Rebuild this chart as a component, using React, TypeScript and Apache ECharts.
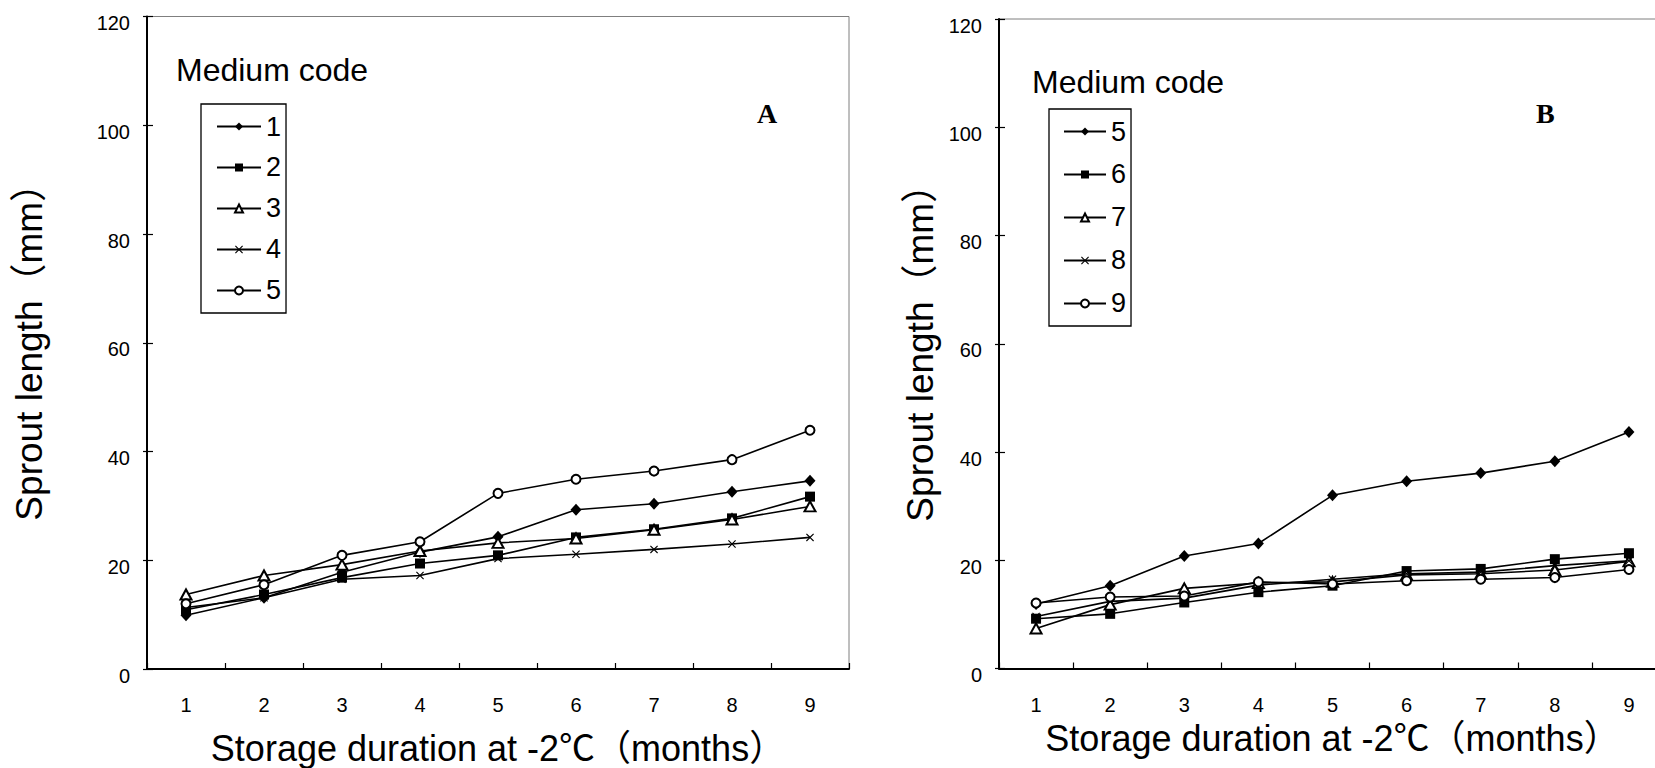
import React, { useEffect, useRef } from 'react';
import * as echarts from 'echarts';

// ---- data ----
const months = ['1', '2', '3', '4', '5', '6', '7', '8', '9'];

const codesA = ['1', '2', '3', '4', '5'];
const codesB = ['5', '6', '7', '8', '9'];

const a1 = [9.9, 13.1, 17.8, 21.5, 24.3, 29.3, 30.4, 32.6, 34.6];
const a2 = [10.9, 13.7, 16.8, 19.4, 20.9, 24.2, 25.7, 27.7, 31.7];
const a3 = [13.7, 17.2, 19.2, 21.7, 23.2, 24.0, 25.6, 27.5, 29.9];
const a4 = [11.3, 13.1, 16.5, 17.2, 20.3, 21.1, 22.0, 23.0, 24.2];
const a5 = [12.0, 15.5, 20.9, 23.4, 32.3, 34.9, 36.4, 38.5, 43.9];

const b5 = [11.9, 15.3, 20.8, 23.1, 32.0, 34.6, 36.1, 38.3, 43.7];
const b6 = [9.2, 10.1, 12.2, 14.1, 15.3, 18.0, 18.4, 20.2, 21.3];
const b7 = [7.4, 11.8, 14.8, 15.8, 16.0, 17.3, 17.5, 18.2, 19.8];
const b8 = [9.6, 12.4, 13.0, 15.4, 16.5, 17.5, 17.8, 19.0, 19.9];
const b9 = [12.1, 13.2, 13.4, 16.0, 15.6, 16.2, 16.5, 16.8, 18.3];

const yMin = 0;
const yMax = 120;
const yStep = 20;

const xTitle = 'Storage duration at -2℃（months）';
const yTitle = 'Sprout length（mm）';
const legendTitle = 'Medium code';
const panelA = 'A';
const panelB = 'B';

// ---- styling ----
const FONT = "'Liberation Sans', Arial, 'Noto Sans CJK SC', sans-serif";
const CROSS = 'path://M0,1L1,0L5,4L9,0L10,1L6,5L10,9L9,10L5,6L1,10L0,9L4,5Z';
const markers = [
  { symbol: 'diamond', size: [11, 12], empty: false },
  { symbol: 'rect', size: 10, empty: false },
  { symbol: 'emptyTriangle', size: [11, 10], empty: true },
  { symbol: CROSS, size: 8, empty: false },
  { symbol: 'emptyCircle', size: 9, empty: true },
];

function mkSeries(prefix: string, name: string, data: number[], idx: number, g: number) {
  const m = markers[idx];
  return {
    type: 'line',
    name: prefix + name,
    data,
    xAxisIndex: g,
    yAxisIndex: g * 2,
    symbol: m.symbol,
    symbolSize: m.size,
    showSymbol: true,
    lineStyle: { color: '#000', width: 1.6 },
    itemStyle: { color: '#000', borderColor: '#000', borderWidth: m.empty ? 1.4 : 0 },
    emphasis: { disabled: true },
  };
}

function yAxes(g: number, nameGap: number) {
  return [
    {
      type: 'value', gridIndex: g, position: 'left', min: yMin, max: yMax, interval: yStep,
      axisLine: { show: true, lineStyle: { color: '#000', width: 2 } },
      axisTick: { show: true, inside: false, length: 4, lineStyle: { color: '#000', width: 1.2 } },
      axisLabel: {
        show: true, margin: 17, fontSize: 20, color: '#000', fontFamily: FONT,
        verticalAlign: 'top', lineHeight: 13,
      },
      splitLine: { show: false },
      name: yTitle, nameLocation: 'middle', nameGap,
      nameTextStyle: { fontSize: 37, color: '#000', fontFamily: FONT },
    },
    {
      type: 'value', gridIndex: g, position: 'left', min: yMin, max: yMax, interval: yStep,
      axisLine: { show: false },
      axisTick: { show: true, inside: true, length: 6, lineStyle: { color: '#000', width: 1.2 } },
      axisLabel: { show: false },
      splitLine: { show: false },
    },
  ];
}

function xAxis(g: number, nameGap: number) {
  return {
    type: 'category', gridIndex: g, data: months, boundaryGap: true,
    axisLine: { show: true, lineStyle: { color: '#000', width: 2 } },
    axisTick: { show: true, inside: true, length: 6, interval: 0, lineStyle: { color: '#000', width: 1.2 } },
    axisLabel: { margin: 26, fontSize: 20, color: '#000', fontFamily: FONT, interval: 0 },
    splitLine: { show: false },
    name: xTitle, nameLocation: 'middle', nameGap,
    nameTextStyle: { fontSize: 36, color: '#000', fontFamily: FONT, lineHeight: 36 },
  };
}

function legend(prefix: string, codes: string[], left: number, top: number, itemGap: number, padLeft: number, itemWidth: number) {
  return {
    data: codes.map((c) => prefix + c),
    formatter: (n: string) => n.slice(prefix.length),
    orient: 'vertical', left, top, itemWidth, itemHeight: 10, itemGap,
    padding: [9, 5, 9, padLeft],
    borderColor: '#000', borderWidth: 1.3, selectedMode: false,
    textStyle: { fontSize: 27, color: '#000', fontFamily: FONT },
  };
}

export default function App() {
  const ref = useRef<HTMLDivElement>(null);
  useEffect(() => {
    if (!ref.current) return;
    const chart = echarts.init(ref.current, undefined, { renderer: 'svg' });
    const seriesA = [a1, a2, a3, a4, a5].map((d, i) => mkSeries('A', codesA[i], d, i, 0));
    const seriesB = [b5, b6, b7, b8, b9].map((d, i) => mkSeries('B', codesB[i], d, i, 1));
    chart.setOption({
      animation: false,
      backgroundColor: '#fff',
      textStyle: { fontFamily: FONT },
      grid: [
        { left: 147, top: 16.5, width: 702, height: 652.5, show: true, borderColor: '#7f7f7f', borderWidth: 1, containLabel: false, outerBoundsMode: 'none' },
        { left: 999, top: 19, width: 667, height: 649.5, show: true, borderColor: '#7f7f7f', borderWidth: 1, containLabel: false, outerBoundsMode: 'none' },
      ],
      xAxis: [xAxis(0, 61), xAxis(1, 52)],
      yAxis: [...yAxes(0, 99), ...yAxes(1, 60)],
      legend: [
        legend('A', codesA, 201, 104, 14, 15, 44),
        legend('B', codesB, 1049, 109, 16, 14, 42),
      ],
      graphic: [
        { type: 'text', left: 176, top: 54, style: { text: legendTitle, fontSize: 32, fill: '#000', fontFamily: FONT } },
        { type: 'text', left: 1032, top: 66, style: { text: legendTitle, fontSize: 32, fill: '#000', fontFamily: FONT } },
        { type: 'text', left: 757, top: 99, style: { text: panelA, fontSize: 28, fontWeight: 'bold', fill: '#000', fontFamily: "'Liberation Serif', 'Times New Roman', serif" } },
        { type: 'text', left: 1536, top: 99, style: { text: panelB, fontSize: 28, fontWeight: 'bold', fill: '#000', fontFamily: "'Liberation Serif', 'Times New Roman', serif" } },
      ],
      series: [...seriesA, ...seriesB],
    });
    return () => chart.dispose();
  }, []);
  return (
    <div
      ref={ref}
      style={{ position: 'fixed', left: 0, top: 0, width: 1655, height: 768, background: '#fff' }}
    />
  );
}
